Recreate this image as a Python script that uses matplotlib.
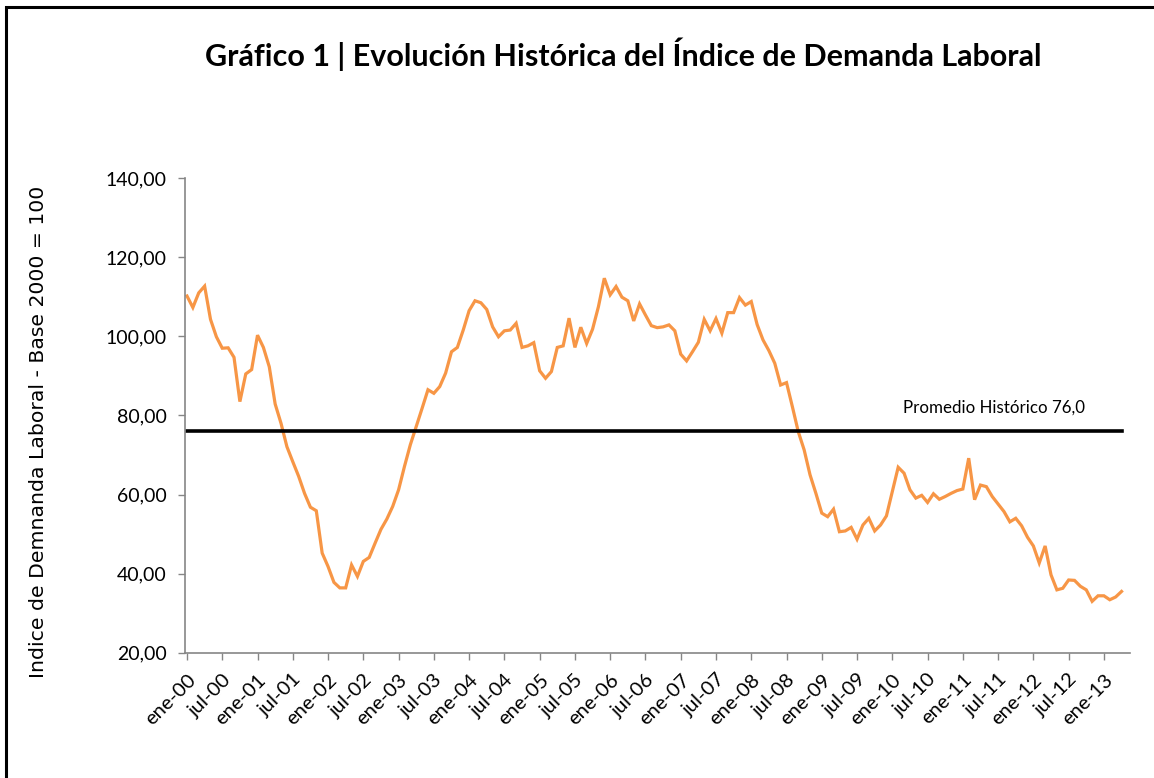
import matplotlib
matplotlib.use("Agg")
import matplotlib.pyplot as plt
from matplotlib.patches import Rectangle
from matplotlib.ticker import FuncFormatter

# monthly index, ene-00 .. abr-13
demanda = [
    110.2, 107.3, 111.0, 112.7, 104.3, 99.9, 97.0, 97.1, 94.7, 83.5, 90.5, 91.6,
    100.3, 97.2, 92.3, 82.9, 78.0, 72.1, 68.3, 64.6, 60.3, 56.8, 55.9, 45.2,
    41.8, 37.8, 36.4, 36.4, 42.2, 39.3, 43.1, 44.1, 47.7, 51.2, 53.8, 57.0,
    61.2, 67.1, 72.6, 77.2, 81.8, 86.5, 85.6, 87.3, 90.7, 96.1, 97.2, 101.6,
    106.5, 109.0, 108.5, 106.8, 102.4, 99.9, 101.4, 101.6, 103.3, 97.2, 97.6, 98.4,
    91.3, 89.4, 91.1, 97.2, 97.6, 104.6, 97.2, 102.3, 98.2, 101.8, 107.5, 114.7,
    110.5, 112.6, 109.9, 109.0, 103.9, 108.2, 105.4, 102.7, 102.2, 102.4, 102.9, 101.4,
    95.5, 93.8, 96.1, 98.5, 104.3, 101.4, 104.5, 100.8, 106.0, 106.0, 109.8, 107.9,
    108.8, 103.0, 99.1, 96.4, 93.2, 87.7, 88.3, 82.2, 75.9, 71.3, 65.0, 60.3,
    55.3, 54.4, 56.3, 50.6, 50.8, 51.7, 48.7, 52.3, 54.0, 50.8, 52.3, 54.6,
    60.8, 66.9, 65.4, 61.2, 59.1, 59.8, 58.0, 60.2, 58.8, 59.5, 60.3, 61.0,
    61.4, 69.2, 58.7, 62.4, 62.0, 59.5, 57.6, 55.7, 53.1, 54.0, 52.1, 49.2,
    47.0, 42.7, 47.0, 39.7, 35.9, 36.3, 38.4, 38.3, 36.8, 35.9, 33.0, 34.4,
    34.4, 33.4, 34.1, 35.5,
]
promedio = 76.0
anios = list(range(0, 14))
tick_labels = []
for a in anios:
    tick_labels.append("ene-%02d" % a)
    if a < 13:
        tick_labels.append("jul-%02d" % a)

meses = list(range(len(demanda)))
tick_pos = list(range(0, 6 * len(tick_labels), 6))

fig = plt.figure(figsize=(11.54, 7.78), dpi=100)
ax = fig.add_axes([0.160, 0.161, 0.819, 0.610])

grey = "#868686"
ax.plot(meses, demanda, color="#F79646", linewidth=2.3, solid_joinstyle="miter")
ax.plot([meses[0], meses[-1]], [promedio, promedio], color="black", linewidth=2.6)
ax.text(121.8, 80.6, "Promedio Histórico 76,0", fontsize=12.2, family="Lato", color="black")

ax.set_xlim(-0.4, 160.4)
ax.set_ylim(20, 140)
ax.set_yticks(range(20, 141, 20))
ax.yaxis.set_major_formatter(FuncFormatter(lambda v, p: ("%.2f" % v).replace(".", ",")))
ax.set_xticks(tick_pos)
ax.set_xticklabels(tick_labels, rotation=45, ha="right", rotation_mode="anchor",
                   fontsize=14.5, family="Lato")
for t in ax.get_yticklabels():
    t.set_fontsize(14)
    t.set_family("Lato")

for s in ["top", "right"]:
    ax.spines[s].set_visible(False)
for s in ["left", "bottom"]:
    ax.spines[s].set_color(grey)
    ax.spines[s].set_linewidth(1.2)
ax.tick_params(axis="both", direction="out", length=5, color=grey, width=1.0)
ax.tick_params(axis="y", pad=8)
ax.tick_params(axis="x", pad=8)

ax.set_ylabel("Indice de Demnanda Laboral - Base 2000 = 100", fontsize=14.7,
              family="DejaVu Sans")
ax.yaxis.set_label_coords(-0.145, 0.465)

fig.text(0.54, 0.930, "Gráfico 1 | Evolución Histórica del Índice de Demanda Laboral",
         ha="center", va="center", fontsize=22, fontweight="bold", family="Lato")

# frame of the original screenshot (only top and left edges visible)
fig.patches.append(Rectangle((6 / 1154, -0.1), 1.2, 1 - 7 / 778 + 0.1,
                             transform=fig.transFigure, fill=False,
                             edgecolor="black", linewidth=2.2))

fig.savefig("out.png", dpi=100)
